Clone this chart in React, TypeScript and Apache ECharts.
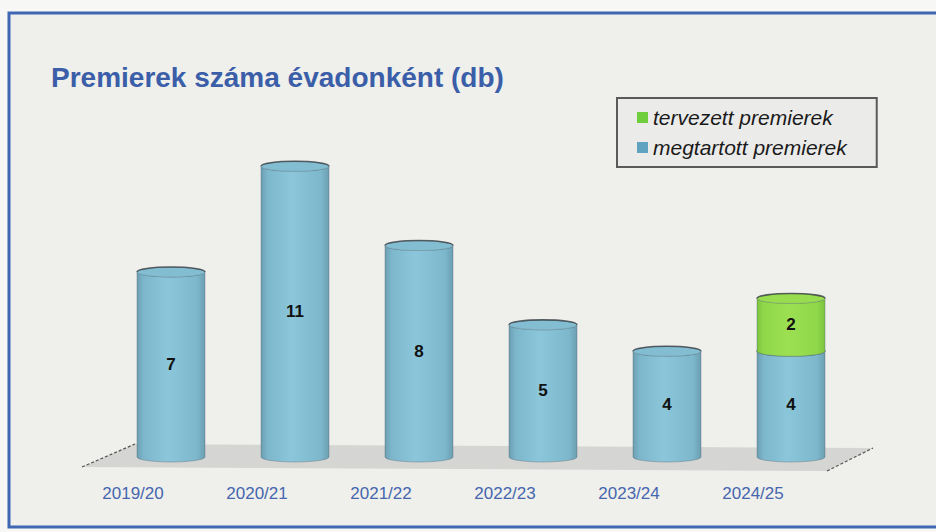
import React, { useEffect, useRef } from "react";
import * as echarts from "echarts";

const categories = ["2019/20", "2020/21", "2021/22", "2022/23", "2023/24", "2024/25"];
const megtartott = [7, 11, 8, 5, 4, 4];
const tervezett = [null, null, null, null, null, 2];
const titleText = "Premierek száma évadonként (db)";
const nameTervezett = "tervezett premierek";
const nameMegtartott = "megtartott premierek";

const FONT = "'Liberation Sans', Arial, sans-serif";

function makeRender(colors: { edge: string; mid: string; light: string; top: string }) {
  return (params: any, api: any) => {
    const x = api.value(0);
    const b = api.value(1);
    const t = api.value(2);
    const pb = api.coord([x, b]);
    const pt = api.coord([x, t]);
    const rx = 34;
    const ry = 5;
    const cx = pb[0];
    const yb = pb[1];
    const yt = pt[1];
    const body =
      `M ${cx - rx} ${yt} L ${cx - rx} ${yb} A ${rx} ${ry} 0 0 0 ${cx + rx} ${yb} ` +
      `L ${cx + rx} ${yt} A ${rx} ${ry} 0 0 1 ${cx - rx} ${yt} Z`;
    const top =
      `M ${cx - rx} ${yt} A ${rx} ${ry} 0 1 1 ${cx + rx} ${yt} A ${rx} ${ry} 0 1 1 ${cx - rx} ${yt} Z`;
    const topArc = `M ${cx - rx} ${yt} A ${rx} ${ry} 0 0 1 ${cx + rx} ${yt}`;
    const grad = new echarts.graphic.LinearGradient(0, 0, 1, 0, [
      { offset: 0, color: colors.edge },
      { offset: 0.1, color: colors.mid },
      { offset: 0.45, color: colors.light },
      { offset: 0.88, color: colors.mid },
      { offset: 1, color: colors.edge },
    ]);
    const label = String(api.value(3));
    return {
      type: "group",
      children: [
        {
          type: "path",
          shape: { pathData: body },
          style: { fill: grad, stroke: "rgba(70,90,100,0.35)", lineWidth: 1 },
        },
        {
          type: "path",
          shape: { pathData: top },
          style: { fill: colors.top, stroke: "rgba(70,90,100,0.25)", lineWidth: 1 },
        },
        {
          type: "path",
          shape: { pathData: topArc },
          style: { fill: null, stroke: "rgba(50,55,60,0.75)", lineWidth: 1.6 },
        },
        {
          type: "text",
          style: {
            text: label,
            x: cx,
            y: (yb + yt) / 2,
            align: "center",
            verticalAlign: "middle",
            fill: "#111",
            font: `bold 17px ${FONT}`,
          },
        },
      ],
    };
  };
}

export default function App() {
  const ref = useRef<HTMLDivElement>(null);
  useEffect(() => {
    if (!ref.current) return;
    const chart = echarts.init(ref.current, null, { renderer: "svg" });
    const blueData = megtartott.map((v, i) => [i, 0, v, v]);
    const greenData = tervezett
      .map((v, i) => (v == null ? null : [i, megtartott[i], megtartott[i] + v, v]))
      .filter((d) => d !== null);
    chart.setOption({
      animation: false,
      backgroundColor: "#f7f7f5",
      title: {
        text: titleText,
        left: 46,
        top: 58,
        textStyle: { color: "#3b5ea8", fontSize: 28, fontWeight: "bold", fontFamily: FONT },
      },
      legend: {
        data: [nameTervezett, nameMegtartott],
        orient: "vertical",
        left: 617,
        top: 98,
        padding: [9, 30, 9, 20],
        itemGap: 9,
        itemWidth: 11,
        itemHeight: 11,
        icon: "rect",
        backgroundColor: "#ebebea",
        borderColor: "#5a5a5a",
        borderWidth: 2,
        textStyle: { fontSize: 21, fontStyle: "italic", color: "#1a1a1a", fontFamily: FONT },
      },
      grid: { left: 109, right: 83, top: 87, bottom: 75 },
      xAxis: {
        type: "category",
        data: categories,
        axisLine: { show: false },
        axisTick: { show: false },
        axisLabel: {
          color: "#4566ad",
          fontSize: 17,
          fontFamily: FONT,
          margin: 28,
          padding: [0, 76, 0, 0],
        },
      },
      yAxis: { type: "value", min: 0, max: 14, show: false, splitLine: { show: false } },
      graphic: [
        {
          type: "rect",
          z: -11,
          silent: true,
          shape: { x: 9, y: 13, width: 1100, height: 514 },
          style: { fill: "#efefec" },
        },
        {
          type: "polyline",
          z: -10,
          silent: true,
          shape: { points: [[1100, 13], [9, 13], [9, 527], [1100, 527]] },
          style: { stroke: "#3f67b3", lineWidth: 3, fill: null },
        },
        {
          type: "polygon",
          z: -5,
          silent: true,
          shape: { points: [[135, 444], [873, 448], [827, 471], [82, 467]] },
          style: { fill: "#d5d5d4" },
        },
        {
          type: "line",
          z: -4,
          silent: true,
          shape: { x1: 82, y1: 467, x2: 135, y2: 444 },
          style: { stroke: "#555", lineWidth: 1.2, lineDash: [3, 2] },
        },
        {
          type: "line",
          z: -4,
          silent: true,
          shape: { x1: 827, y1: 471, x2: 873, y2: 448 },
          style: { stroke: "#555", lineWidth: 1.2, lineDash: [3, 2] },
        },
      ],
      series: [
        {
          name: nameMegtartott,
          type: "custom",
          itemStyle: { color: "#5fa3c0" },
          encode: { x: 0, y: 2 },
          data: blueData,
          renderItem: makeRender({ edge: "#6c9fb2", mid: "#7db7cc", light: "#8cc6da", top: "#82bdd1" }),
          z: 2,
        },
        {
          name: nameTervezett,
          type: "custom",
          itemStyle: { color: "#6fce3c" },
          encode: { x: 0, y: 2 },
          data: greenData,
          renderItem: makeRender({ edge: "#7cc440", mid: "#8fd84a", light: "#9ce052", top: "#98dc50" }),
          z: 3,
        },
      ],
    });
    return () => chart.dispose();
  }, []);
  return (
    <div
      ref={ref}
      style={{ position: "fixed", left: 0, top: 0, width: 936, height: 532 }}
    />
  );
}
